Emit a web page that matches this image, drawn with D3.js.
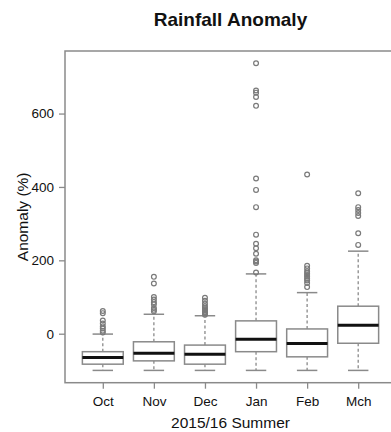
<!DOCTYPE html>
<html>
<head>
<meta charset="utf-8">
<script src="https://cdn.jsdelivr.net/npm/d3@7"></script>
<style>
  html, body { margin: 0; padding: 0; background: #fff; }
  svg { display: block; font-family: "Liberation Sans", Arial, Helvetica, sans-serif; }
</style>
</head>
<body>
<svg id="chart" width="391" height="432"></svg>
<script>
// Monthly rainfall anomaly (%) distributions, 2015/16 summer
const months      = ["Oct", "Nov", "Dec", "Jan", "Feb", "Mch"];
const whiskerLow  = [-100, -100, -100, -100, -100, -100];
const quartile1   = [-83, -74, -83, -49, -63, -26];
const medians     = [-65, -53, -56, -15, -27, 23];
const quartile3   = [-49, -22, -31, 35, 13, 75];
const whiskerHigh = [-1, 53, 49, 163, 112, 225];
const outliers = [
  [62, 56, 36, 28, 20, 14, 8, 3],
  [155, 137, 100, 93, 86, 80, 70, 65, 61],
  [98, 90, 82, 75, 70, 66, 63, 60, 58, 55, 52],
  [737, 663, 657, 645, 621, 423, 392, 345, 270, 245, 233, 218, 200, 197, 193, 167],
  [434, 185, 178, 170, 165, 160, 155, 150, 145, 138, 127],
  [383, 345, 337, 329, 321, 274, 242]
];
const yTicks = [0, 200, 400, 600];

const titleText = "Rainfall Anomaly";
const xTitle = "2015/16 Summer";
const yTitle = "Anomaly (%)";

const svg = d3.select("#chart");
const plotL = 65, plotR = 396, plotT = 51, plotB = 382.7;
const grey = "#8a8a8a";

const x = d3.scaleLinear().domain([0.26, 6.74]).range([plotL, plotR]);
const y = d3.scaleLinear().domain([-133.5, 770.5]).range([plotB, plotT]);
const unit = x(2) - x(1);
const boxW = unit * 0.8;
const capW = boxW * 0.5;

const data = months.map((m, i) => ({
  month: m, pos: i + 1,
  lo: whiskerLow[i], q1: quartile1[i], med: medians[i], q3: quartile3[i], hi: whiskerHigh[i],
  out: outliers[i]
}));

// Title
svg.append("text")
  .attr("x", (plotL + plotR) / 2).attr("y", 26)
  .attr("text-anchor", "middle")
  .attr("font-size", 19).attr("font-weight", "bold").attr("fill", "#111")
  .text(titleText);

// Boxes
const g = svg.append("g");
const box = g.selectAll("g.box").data(data).join("g").attr("class", "box");

// whiskers (dashed)
box.append("line")
  .attr("x1", d => x(d.pos)).attr("x2", d => x(d.pos))
  .attr("y1", d => y(d.q3)).attr("y2", d => y(d.hi))
  .attr("stroke", grey).attr("stroke-width", 1.3).attr("stroke-dasharray", "3,2.5");
box.append("line")
  .attr("x1", d => x(d.pos)).attr("x2", d => x(d.pos))
  .attr("y1", d => y(d.q1)).attr("y2", d => y(d.lo))
  .attr("stroke", grey).attr("stroke-width", 1.3).attr("stroke-dasharray", "3,2.5");
// staples
box.append("line")
  .attr("x1", d => x(d.pos) - capW / 2).attr("x2", d => x(d.pos) + capW / 2)
  .attr("y1", d => y(d.hi)).attr("y2", d => y(d.hi))
  .attr("stroke", grey).attr("stroke-width", 1.5);
box.append("line")
  .attr("x1", d => x(d.pos) - capW / 2).attr("x2", d => x(d.pos) + capW / 2)
  .attr("y1", d => y(d.lo)).attr("y2", d => y(d.lo))
  .attr("stroke", grey).attr("stroke-width", 1.5);
// box body
box.append("rect")
  .attr("x", d => x(d.pos) - boxW / 2).attr("width", boxW)
  .attr("y", d => y(d.q3)).attr("height", d => y(d.q1) - y(d.q3))
  .attr("fill", "#fff").attr("stroke", grey).attr("stroke-width", 1.5);
// median
box.append("line")
  .attr("x1", d => x(d.pos) - boxW / 2).attr("x2", d => x(d.pos) + boxW / 2)
  .attr("y1", d => y(d.med)).attr("y2", d => y(d.med))
  .attr("stroke", "#111").attr("stroke-width", 3);
// outliers
box.selectAll("circle").data(d => d.out.map(v => ({ pos: d.pos, v })))
  .join("circle")
  .attr("cx", d => x(d.pos)).attr("cy", d => y(d.v)).attr("r", 2.4)
  .attr("fill", "none").attr("stroke", "#7a7a7a").attr("stroke-width", 1.2);

// Frame
svg.append("rect")
  .attr("x", plotL).attr("y", plotT).attr("width", plotR - plotL).attr("height", plotB - plotT)
  .attr("fill", "none").attr("stroke", grey).attr("stroke-width", 1.5);

// Y axis
const yAxis = svg.append("g").attr("transform", `translate(${plotL},0)`)
  .call(d3.axisLeft(y).tickValues(yTicks).tickSize(6).tickPadding(5).tickFormat(d3.format("d")));
yAxis.select(".domain").remove();
yAxis.selectAll("line").attr("stroke", grey).attr("stroke-width", 1.3);
yAxis.selectAll("text").attr("font-size", 13.5).attr("fill", "#111")
  .attr("font-family", "Liberation Sans, Arial, sans-serif");

// X axis
const xAxis = svg.append("g").attr("transform", `translate(0,${plotB})`)
  .call(d3.axisBottom(x).tickValues(data.map(d => d.pos)).tickSize(6).tickPadding(8)
    .tickFormat(p => months[p - 1]));
xAxis.select(".domain").remove();
xAxis.selectAll("line").attr("stroke", grey).attr("stroke-width", 1.3);
xAxis.selectAll("text").attr("font-size", 13.5).attr("fill", "#111")
  .attr("font-family", "Liberation Sans, Arial, sans-serif");

// Axis titles
svg.append("text")
  .attr("x", (plotL + plotR) / 2).attr("y", 428)
  .attr("text-anchor", "middle").attr("font-size", 15.5).attr("fill", "#111")
  .text(xTitle);
svg.append("text")
  .attr("transform", `translate(28,${(plotT + plotB) / 2}) rotate(-90)`)
  .attr("text-anchor", "middle").attr("font-size", 15.5).attr("fill", "#111")
  .text(yTitle);
</script>
</body>
</html>
